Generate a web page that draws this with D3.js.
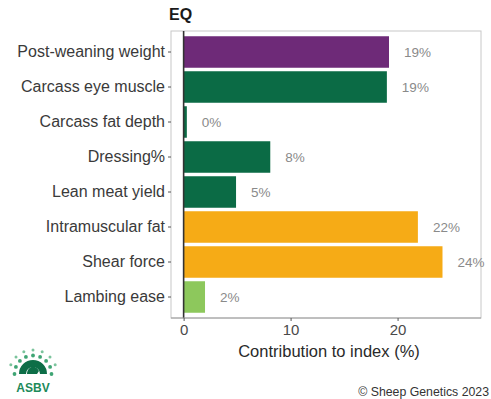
<!DOCTYPE html>
<html>
<head>
<meta charset="utf-8">
<script src="https://cdn.jsdelivr.net/npm/d3@7"></script>
<style>
  html, body { margin: 0; padding: 0; background: #fff; }
  svg { display: block; font-family: "Liberation Sans", Arial, sans-serif; }
</style>
</head>
<body>
<svg id="chart" width="491" height="399"></svg>
<script>
// Trait contributions to the EQ index (%)
const traits = [
  "Post-weaning weight",
  "Carcass eye muscle",
  "Carcass fat depth",
  "Dressing%",
  "Lean meat yield",
  "Intramuscular fat",
  "Shear force",
  "Lambing ease"
];
const contributions = [19.2, 19.0, 0.3, 8.1, 4.9, 21.9, 24.2, 2.0];
const traitGroups = ["growth", "carcass", "carcass", "carcass", "carcass", "eating", "eating", "reproduction"];
const xTicks = [0, 10, 20];

const groupColours = {
  growth: "#6e2a78",
  carcass: "#0b6b45",
  eating: "#f6ab16",
  reproduction: "#8dc85c"
};

const svg = d3.select("#chart");
const panel = { left: 171, right: 481, top: 31, bottom: 318 };

const x = d3.scaleLinear().domain([-1.18, 27.8]).range([panel.left, panel.right]);
const y = d3.scaleBand().domain(traits).range([panel.top, panel.bottom])
  .paddingInner(0.1).paddingOuter(0.15);

const rows = traits.map((t, i) => ({ trait: t, value: contributions[i], group: traitGroups[i] }));

// panel background and border
svg.append("rect")
  .attr("x", panel.left).attr("y", panel.top)
  .attr("width", panel.right - panel.left).attr("height", panel.bottom - panel.top)
  .attr("fill", "#fff").attr("stroke", "#c8c8c8").attr("stroke-width", 1);

// bars
svg.append("g").selectAll("rect").data(rows).join("rect")
  .attr("x", x(0))
  .attr("y", d => y(d.trait))
  .attr("width", d => x(d.value) - x(0))
  .attr("height", y.bandwidth())
  .attr("fill", d => groupColours[d.group]);

// zero reference line
svg.append("line")
  .attr("x1", x(0)).attr("x2", x(0))
  .attr("y1", panel.top).attr("y2", panel.bottom)
  .attr("stroke", "#333").attr("stroke-width", 1.6);

// bottom axis line
svg.append("line")
  .attr("x1", panel.left).attr("x2", panel.right)
  .attr("y1", panel.bottom).attr("y2", panel.bottom)
  .attr("stroke", "#9a9a9a").attr("stroke-width", 1);

// value labels
svg.append("g").selectAll("text").data(rows).join("text")
  .attr("x", d => x(d.value) + 15)
  .attr("y", d => y(d.trait) + y.bandwidth() / 2)
  .attr("dy", "0.36em")
  .attr("font-size", 13.5)
  .attr("fill", "#8a8a8a")
  .text(d => Math.round(d.value) + "%");

// y axis
const yAxis = svg.append("g")
  .attr("transform", `translate(${panel.left},0)`)
  .call(d3.axisLeft(y).tickSize(3).tickPadding(3));
yAxis.select(".domain").remove();
yAxis.selectAll(".tick line").attr("stroke", "#555");
yAxis.selectAll(".tick text")
  .attr("font-size", 16).attr("fill", "#3a3a3a").attr("font-family", null);

// x axis
const xAxis = svg.append("g")
  .attr("transform", `translate(0,${panel.bottom})`)
  .call(d3.axisBottom(x).tickValues(xTicks).tickSize(3).tickPadding(3).tickFormat(d3.format("d")));
xAxis.select(".domain").remove();
xAxis.selectAll(".tick line").attr("stroke", "#555");
xAxis.selectAll(".tick text")
  .attr("font-size", 15).attr("fill", "#4a4a4a").attr("font-family", null);

// axis title
svg.append("text")
  .attr("x", (panel.left + panel.right) / 2 + 3)
  .attr("y", 357)
  .attr("text-anchor", "middle")
  .attr("font-size", 16.5)
  .attr("fill", "#2a2a2a")
  .text("Contribution to index (%)");

// plot title
svg.append("text")
  .attr("x", 169).attr("y", 20)
  .attr("font-size", 16).attr("font-weight", "bold")
  .attr("fill", "#1a1a1a")
  .text("EQ");

// copyright
svg.append("text")
  .attr("x", 489).attr("y", 396)
  .attr("text-anchor", "end")
  .attr("font-size", 12.3)
  .attr("fill", "#333")
  .text("\u00a9 Sheep Genetics 2023");

// ASBV logo mark
const logo = svg.append("g").attr("transform", "translate(33,374)");
const rayAngles = d3.range(-180, 1, 22.5);
logo.selectAll("circle.ray").data(rayAngles).join("circle")
  .attr("class", "ray")
  .attr("cx", a => Math.cos(a * Math.PI / 180) * 18.5)
  .attr("cy", a => Math.sin(a * Math.PI / 180) * 18.5)
  .attr("r", 1.9)
  .attr("fill", "#3fa574");
logo.selectAll("circle.ray2").data(rayAngles.slice(1, -1)).join("circle")
  .attr("class", "ray2")
  .attr("cx", a => Math.cos(a * Math.PI / 180) * 24)
  .attr("cy", a => Math.sin(a * Math.PI / 180) * 24)
  .attr("r", 1.5)
  .attr("fill", "#7cc49d");
logo.append("path")
  .attr("d", d3.arc()({ innerRadius: 7, outerRadius: 14, startAngle: -Math.PI / 2, endAngle: Math.PI / 2 }))
  .attr("fill", "#0d6e47");
logo.append("path")
  .attr("d", "M-6,0 C-6,-8 3,-10 6,-3 L4,0 Z")
  .attr("fill", "#0d6e47");
logo.append("text")
  .attr("x", 0).attr("y", 18)
  .attr("text-anchor", "middle")
  .attr("font-size", 12).attr("font-weight", "bold")
  .attr("fill", "#1d8a5a")
  .text("ASBV");
</script>
</body>
</html>
